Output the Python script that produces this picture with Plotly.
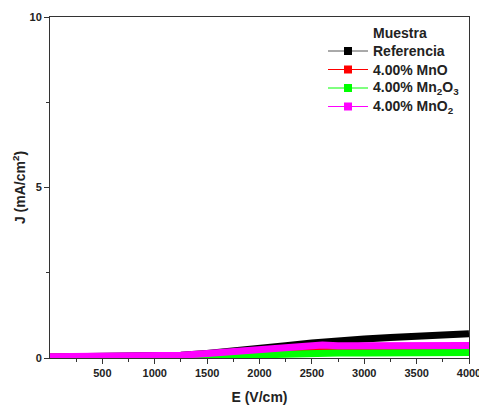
import plotly.graph_objects as go

E = [0, 250, 500, 750, 1000, 1250, 1500, 1750, 2000, 2250, 2500, 2600, 2750, 3000, 3250, 3500, 3750, 4000]
J_ref = [0.03, 0.03, 0.04, 0.04, 0.05, 0.08, 0.13, 0.19, 0.27, 0.36, 0.44, 0.47, 0.51, 0.56, 0.60, 0.64, 0.67, 0.71]
J_mno = [0.02, 0.02, 0.02, 0.02, 0.03, 0.04, 0.06, 0.10, 0.15, 0.21, 0.25, 0.27, 0.27, 0.27, 0.28, 0.28, 0.28, 0.28]
J_mn2o3 = [0.01, 0.01, 0.01, 0.01, 0.02, 0.02, 0.04, 0.07, 0.10, 0.12, 0.14, 0.17, 0.15, 0.15, 0.15, 0.16, 0.16, 0.16]
J_mno2 = [0.04, 0.04, 0.04, 0.05, 0.06, 0.08, 0.13, 0.19, 0.25, 0.31, 0.35, 0.38, 0.36, 0.36, 0.36, 0.37, 0.37, 0.37]

names = ["Referencia", "4.00% MnO", "4.00% Mn<sub>2</sub>O<sub>3</sub>", "4.00% MnO<sub>2</sub>"]
colors = ["#000000", "#FF0000", "#00FF00", "#FF00FF"]
line_colors = ["#555555", "#FF0000", "#00FF00", "#FF00FF"]
series = [J_ref, J_mno, J_mn2o3, J_mno2]
legend_title = "Muestra"

x_ticks = [500, 1000, 1500, 2000, 2500, 3000, 3500, 4000]
y_ticks = [0, 5, 10]

FONT = "Liberation Sans, Arial, sans-serif"
TXT = "#222222"

fig = go.Figure()
for n, ys, c in zip(names, series, colors):
    fig.add_trace(go.Scatter(x=E, y=ys, mode="lines", name=n, line=dict(color=c, width=7),
                             showlegend=False, hoverinfo="skip"))

axis_common = dict(showline=True, linecolor="#333333", linewidth=1, mirror=True,
                   ticks="outside", ticklen=5, tickcolor="#333333", showgrid=False,
                   zeroline=False, automargin=False, ticklabeloverflow="allow",
                   tickfont=dict(family=FONT, size=11, color=TXT, weight="bold"))

fig.update_xaxes(range=[0, 4000], tickvals=x_ticks, ticktext=[str(v) for v in x_ticks],
                 minor=dict(tickvals=[250 + 500 * i for i in range(8)], ticks="outside", ticklen=3, tickcolor="#333333"),
                 title=dict(text="E (V/cm)", font=dict(family=FONT, size=14, color=TXT, weight="bold"), standoff=13),
                 **axis_common)
fig.update_yaxes(range=[0, 10], tickvals=y_ticks, ticktext=[str(v) for v in y_ticks],
                 minor=dict(tickvals=[2.5, 7.5], ticks="outside", ticklen=3, tickcolor="#333333"),
                 title=dict(text="J (mA/cm<sup>2</sup>)", font=dict(family=FONT, size=14, color=TXT, weight="bold"), standoff=0),
                 **axis_common)

# custom legend (paper coordinates)
PL, PW, PB, PH = 50, 419, 358, 341
def px(x): return (x - PL) / PW
def py(y): return (PB - y) / PH

fig.add_annotation(xref="paper", yref="paper", x=px(371), y=py(33), xanchor="left", yanchor="middle",
                   text=legend_title, showarrow=False,
                   font=dict(family=FONT, size=14, color=TXT, weight="bold"))
rows = [51, 69.5, 88, 106.5]
for n, c, lc, yy in zip(names, colors, line_colors, rows):
    fig.add_shape(type="line", xref="paper", yref="paper", x0=px(328), x1=px(368), y0=py(yy), y1=py(yy),
                  line=dict(color=lc, width=1))
    fig.add_shape(type="rect", xref="paper", yref="paper", x0=px(344), x1=px(352), y0=py(yy - 4), y1=py(yy + 4),
                  line=dict(width=0), fillcolor=c)
    fig.add_annotation(xref="paper", yref="paper", x=px(371), y=py(yy), xanchor="left", yanchor="middle",
                       text=n, showarrow=False, font=dict(family=FONT, size=14, color=TXT, weight="bold"))

fig.update_layout(
    width=479, height=405,
    margin=dict(l=50, r=10, t=17, b=47, autoexpand=False),
    plot_bgcolor="white", paper_bgcolor="white",
    showlegend=False,
)

fig.write_html("out.html", config={"displayModeBar": False},
               post_script="document.body.style.margin='0';document.body.style.overflow='hidden';")
